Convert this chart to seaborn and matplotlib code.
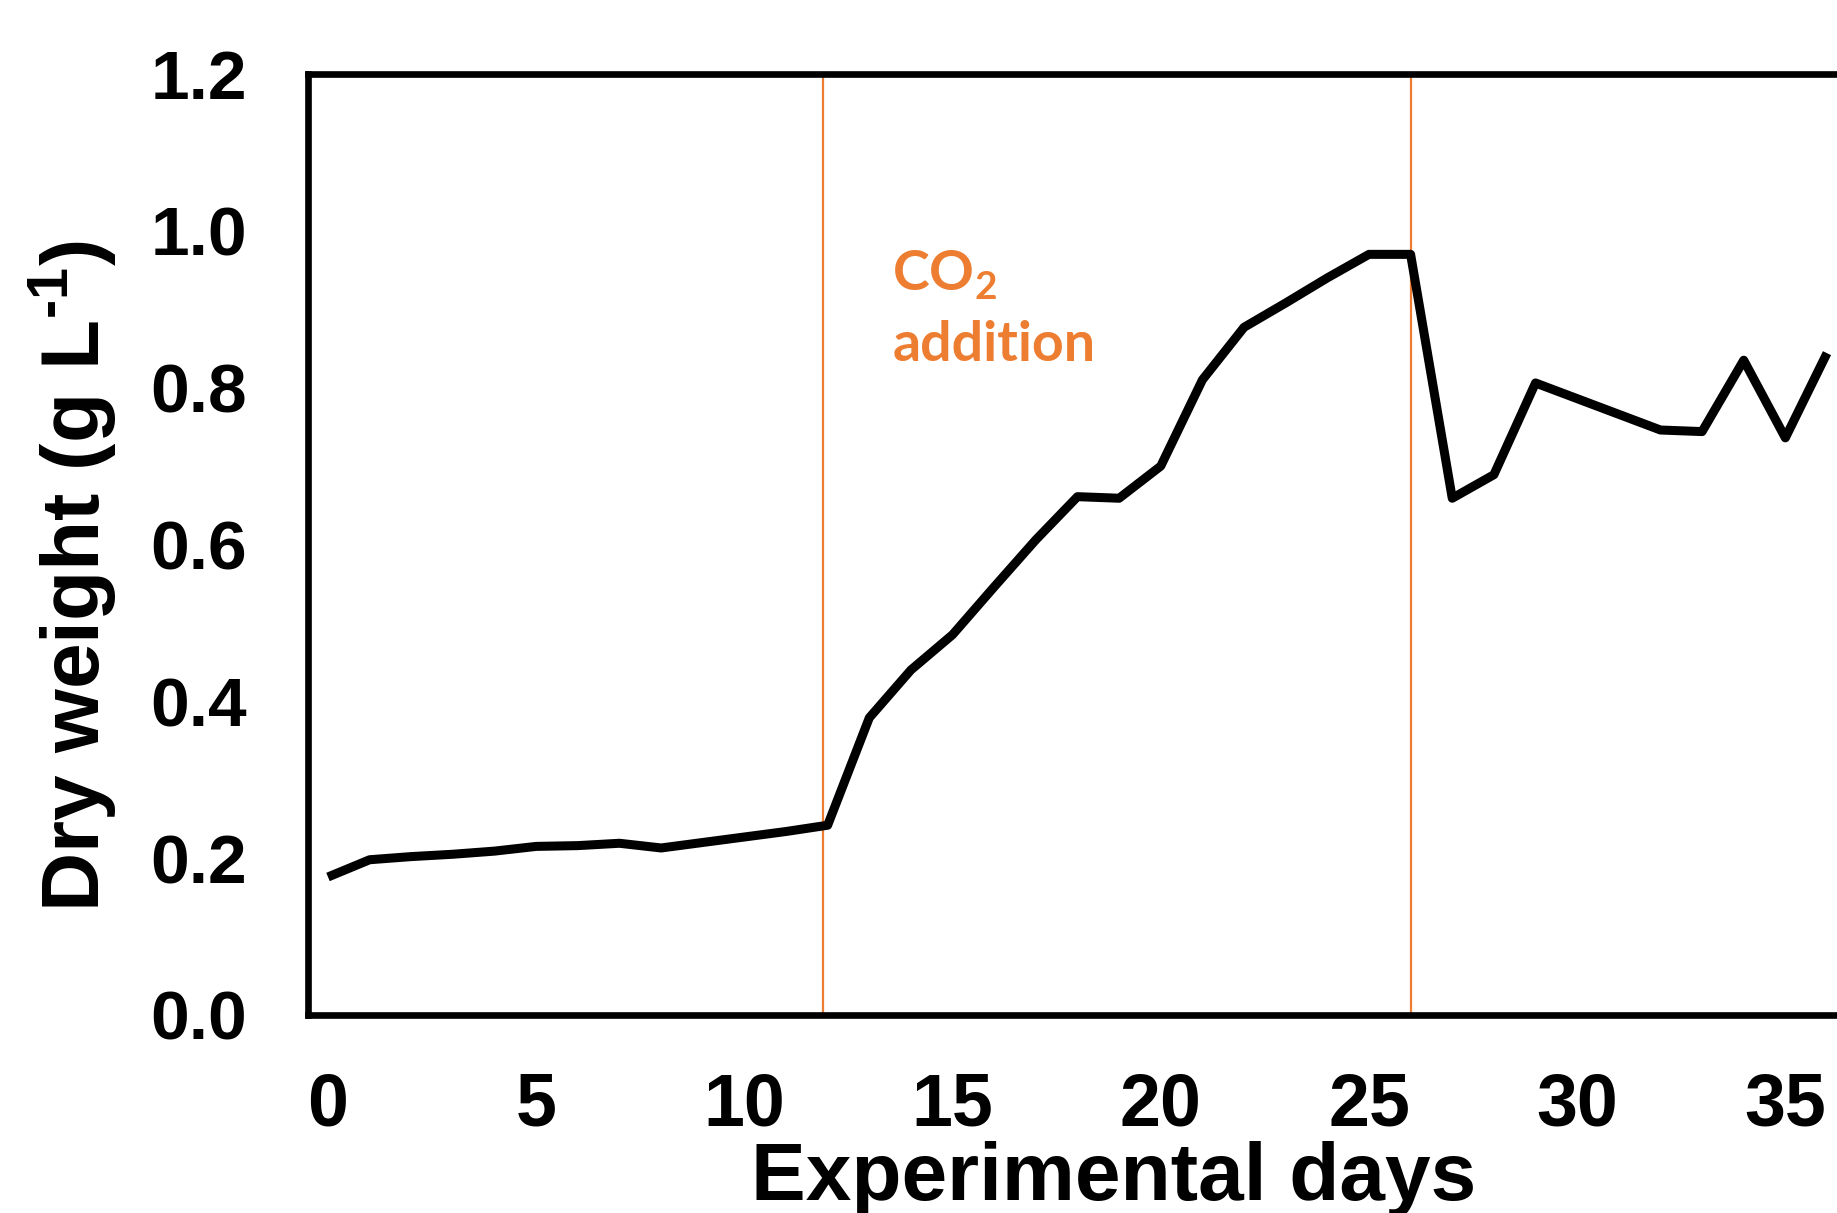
import matplotlib
matplotlib.use("Agg")
import matplotlib.pyplot as plt
import seaborn as sns
import pandas as pd

# Dry weight of the culture over the experiment
days = list(range(0, 37))
dry_weight = [0.176, 0.198, 0.202, 0.205, 0.209, 0.215, 0.216, 0.219, 0.213, 0.220,
              0.227, 0.234, 0.242, 0.379, 0.440, 0.485, 0.546, 0.606, 0.661, 0.659,
              0.700, 0.810, 0.877, 0.908, 0.940, 0.970, 0.970, 0.659, 0.689, 0.806,
              0.786, 0.766, 0.746, 0.744, 0.835, 0.736, 0.844]
co2_days = [11.9, 26]
x_ticks = [0, 5, 10, 15, 20, 25, 30, 35]
y_ticks = [0.0, 0.2, 0.4, 0.6, 0.8, 1.0, 1.2]

orange = "#ED7D31"

sns.set_style("white")
plt.rcParams["font.family"] = ["Liberation Sans", "DejaVu Sans"]
plt.rcParams["font.weight"] = "bold"
plt.rcParams["text.color"] = "black"
plt.rcParams["axes.labelcolor"] = "black"
plt.rcParams["xtick.color"] = "black"
plt.rcParams["ytick.color"] = "black"

df = pd.DataFrame({"day": days, "dw": dry_weight})

fig = plt.figure(figsize=(18.37, 12.13), dpi=100)
# axes runs off the right edge of the picture, as in the original crop
ax = fig.add_axes([308 / 1837, 198 / 1213, 1610.6 / 1837, 941 / 1213])

for d in co2_days:
    ax.axvline(d, color=orange, lw=1.6, zorder=1)

sns.lineplot(data=df, x="day", y="dw", ax=ax, color="black", lw=6.5,
             solid_joinstyle="round", solid_capstyle="butt", zorder=3)

ax.set_xlim(-0.48, 38.2)
ax.set_ylim(0, 1.2)
ax.set_xticks(x_ticks)
ax.set_yticks(y_ticks)
ax.set_yticklabels([f"{v:.1f}" for v in y_ticks])
ax.tick_params(axis="x", length=0, pad=41, labelsize=53, colors="black")
ax.tick_params(axis="y", length=0, pad=44, labelsize=50, colors="black")
for lab in ax.get_xticklabels() + ax.get_yticklabels():
    lab.set_fontweight("bold")

for side in ["left", "top", "bottom", "right"]:
    ax.spines[side].set_color("black")
    ax.spines[side].set_linewidth(4.8)

ax.set_xlabel("Experimental days", fontsize=59, fontweight="bold", color="black")
ax.set_ylabel("Dry weight (g L$^{\\mathregular{\u2010}\\mathregular{1}}$)",
              fontsize=59, fontweight="bold", color="black")
ax.xaxis.set_label_coords(0.5, -0.134)
ax.yaxis.set_label_coords(-0.1175, 0.4665)

ax.text(13.55, 0.925, r"CO$_{\mathregular{2}}$", color=orange, fontsize=40,
        fontweight="bold", family=["Lato", "DejaVu Sans"], ha="left", va="baseline")
ax.text(13.55, 0.834, "addition", color=orange, fontsize=40,
        fontweight="bold", family=["Lato", "DejaVu Sans"], ha="left", va="baseline")

fig.savefig("out.png", dpi=100)
